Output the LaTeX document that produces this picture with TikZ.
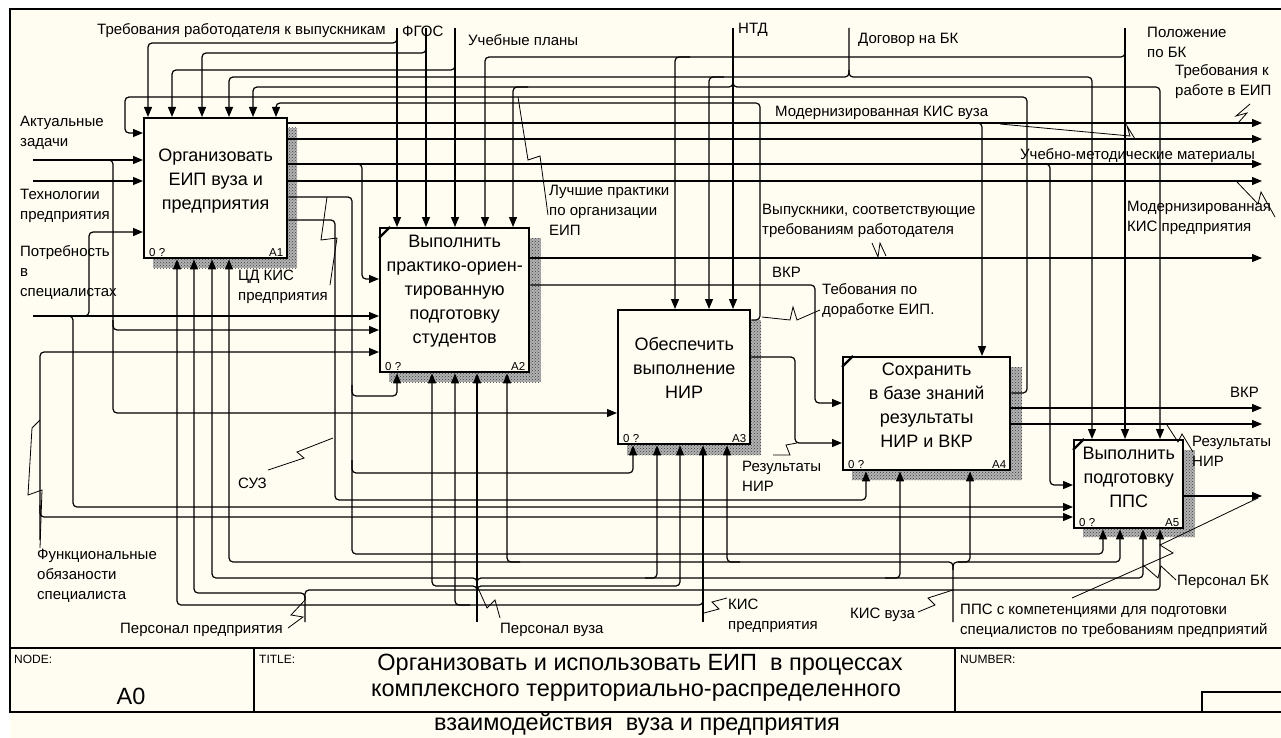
\documentclass[tikz,border=0pt]{standalone}
\usepackage{fontspec}
\setmainfont{Liberation Sans}
\usetikzlibrary{arrows.meta,positioning,patterns,calc}
\definecolor{PaperCream}{RGB}{255,252,241}
\definecolor{ShadeGray}{RGB}{60,60,60}
\tikzset{
  fn/.style={draw,line width=2.4pt,fill=PaperCream,anchor=north west,inner sep=0pt},
  fntext/.style={font=\fontsize{18}{24}\selectfont,align=center,inner sep=0pt},
  shade/.style={fill=black!30,postaction={pattern=crosshatch dots,pattern color=ShadeGray}},
  flow/.style={line width=1.2pt,rounded corners=4pt},
  arr/.style={flow,-{Triangle[length=10pt,width=8pt]}},
  lbl/.style={font=\fontsize{15}{20}\selectfont,inner sep=0pt,align=left,anchor=west},
  ttl/.style={font=\fontsize{23.5}{29}\selectfont,inner sep=0pt,align=center},
  tag/.style={font=\fontsize{11.5}{11.5}\selectfont,inner sep=0pt},
  squig/.style={line width=0.8pt}}
\newcommand{\fntags}[2]{%
  \node[tag,anchor=south west] (#1n) at ($(#1.south west)+(6,-3)$) {0 ?};
  \node[tag,anchor=south east] (#1i) at ($(#1.south east)+(-5,-3)$) {#2};}

\begin{document}
\begin{tikzpicture}[x=1pt,y=-1pt]
  \useasboundingbox (0,0) rectangle (1281,738);
  \fill[white] (0,0) rectangle (1281,738);
  \fill[PaperCream] (10,9) rectangle (1281,738);
  % frame and title block
  \draw[line width=1.3pt] (1290,9) -- (10,9) -- (10,712) -- (1290,712);
  \draw[line width=1.3pt] (10,648) -- (1290,648);
  \draw[line width=1.3pt] (254,648) -- (254,712);
  \draw[line width=1.3pt] (955,648) -- (955,712);
  \draw[line width=1.3pt] (1202,712) |- (1290,692);
  \node[tag,anchor=west,font=\fontsize{12}{12}\selectfont] (nodehd) at (14,659) {NODE:};
  \node[tag,anchor=west,font=\fontsize{12}{12}\selectfont] (titlehd) at (259,659) {TITLE:};
  \node[tag,anchor=west,font=\fontsize{12}{12}\selectfont] (numhd) at (960,659) {NUMBER:};
  \node[ttl] (nodeA0) at (131,696) {A0};
  \node[ttl] (title1) at (640,665) {Организовать и использовать ЕИП\ \ в процессах};
  \node[ttl] (title2) at (636,693) {комплексного территориально-распределенного};
  \node[ttl] (title3) at (637,724) {взаимодействия\ \ вуза и предприятия};

  % shadows
  \fill[shade] (153,128) rectangle (297,268);
  \fill[shade] (389,238) rectangle (541,382);
  \fill[shade] (627,320) rectangle (761,455);
  \fill[shade] (852,367) rectangle (1022,480);
  \fill[shade] (1083,450) rectangle (1195,537);

  % function boxes
  \node[fn,minimum width=143pt,minimum height=140pt] (A1) at (143,117) {};
  \node[fn,minimum width=149pt,minimum height=144pt] (A2) at (379,227) {};
  \node[fn,minimum width=132pt,minimum height=134pt] (A3) at (617,309) {};
  \node[fn,minimum width=167pt,minimum height=113pt] (A4) at (842,356) {};
  \node[fn,minimum width=109pt,minimum height=88pt] (A5) at (1073,439) {};
  \draw[line width=2.4pt] ($(A2.north west)+(0,11)$) -- ++(11,-11);
  \draw[line width=2.4pt] ($(A4.north west)+(0,11)$) -- ++(11,-11);
  \draw[line width=2.4pt] ($(A5.north west)+(0,11)$) -- ++(11,-11);
  \node[fntext] (A1txt) at ($(A1.center)+(0,-7)$) {Организовать\\ЕИП вуза и\\предприятия};
  \node[fntext] (A2txt) at ($(A2.center)+(0,-9)$) {Выполнить\\практико-ориен-\\тированную\\подготовку\\студентов};
  \node[fntext] (A3txt) at ($(A3.center)+(0,-9)$) {Обеспечить\\выполнение\\НИР};
  \node[fntext] (A4txt) at ($(A4.center)+(0,-8)$) {Сохранить\\в базе знаний\\результаты\\НИР и ВКР};
  \node[fntext] (A5txt) at ($(A5.center)+(0,-7)$) {Выполнить\\подготовку\\ППС};
  \fntags{A1}{A1}
  \fntags{A2}{A2}
  \fntags{A3}{A3}
  \fntags{A4}{A4}
  \fntags{A5}{A5}

  % controls from the top
  \draw[arr] (397,28) -- (397,0 |- A2.north);
  \draw[arr] (397,34) |- (148,43) -- (148,0 |- A1.north);
  \draw[arr] (426,28) -- (426,0 |- A2.north);
  \draw[arr] (426,44) |- (202,53) -- (202,0 |- A1.north);
  \draw[arr] (455,28) -- (455,0 |- A2.north);
  \draw[arr] (455,62) |- (172,70) -- (172,0 |- A1.north);
  \draw[arr] (1125,28) -- (1125,0 |- A5.north);
  \draw[arr] (1125,48) |- (485,57) -- (485,0 |- A2.north);
  \draw[arr] (690,57) -| (675,0 |- A3.north);
  \draw[arr] (733,28) -- (733,0 |- A3.north);
  \draw[arr] (733,80) |- (253,87) -- (253,0 |- A1.north);
  \draw[arr] (733,80) |- (1160,87) -- (1160,0 |- A5.north);
  \draw[arr] (528,87) -| (513,0 |- A2.north);
  \draw[arr] (849,28) |- (229,77) -- (229,0 |- A1.north);
  \draw[arr] (849,70) |- (1092,77) -- (1092,0 |- A5.north);
  \draw[arr] (724,77) -| (709,0 |- A3.north);

  % feedback loops
  \draw[arr] (A4.east |- 0,393) -| (1027,97) -| (125,133) -- (A1.west |- 0,133);
  \draw[arr] (A3.east |- 0,320) -| (760,103) -| (276,0 |- A1.north);

  % outputs of A1
  \draw[arr] (A1.east |- 0,123) -- (1262,123);
  \draw[arr] (A1.east |- 0,139) -- (1262,139);
  \draw[arr] (A1.east |- 0,164) -- (1262,164);
  \draw[arr] (A1.east |- 0,181) -- (1262,181);
  \draw[arr] (970,123) -| (982,0 |- A4.north);
  \draw[arr] (1038,164) -| (1050,485) -- (A5.west |- 0,485);
  \draw[arr] (350,164) -| (362,279) -- (A2.west |- 0,279);
  \draw[arr] (A1.east |- 0,197) -| (352,554) -| (1103,0 |- A5.south);
  \draw[arr] (352,385) |- (397,396) -- (397,0 |- A2.south);
  \draw[arr] (352,460) |- (633,473) -- (633,0 |- A3.south);
  \draw[arr] (A1.east |- 0,220) -| (335,500) -| (866,0 |- A4.south);

  % inputs from the left
  \draw[arr] (33,160) -- (A1.west |- 0,160);
  \draw[arr] (98,160) -| (113,330) -- (A2.west |- 0,330);
  \draw[arr] (113,320) |- (A3.west |- 0,413);
  \draw[arr] (33,181) -- (A1.west |- 0,181);
  \draw[arr] (33,316) -- (A2.west |- 0,316);
  \draw[arr] (78,316) -| (89,232) -- (A1.west |- 0,232);
  \draw[arr] (62,316) -| (73,507) -- (A5.west |- 0,507);
  \draw[arr] (40,540) |- (A2.west |- 0,352);
  \draw[arr] (40,505) |- (A5.west |- 0,517);

  % outputs of A2..A5
  \draw[arr] (A2.east |- 0,258) -- (1262,258);
  \draw[arr] (A2.east |- 0,285) -| (815,403) -- (A4.west |- 0,403);
  \draw[arr] (A3.east |- 0,357) -| (795,443) -- (A4.west |- 0,443);
  \draw[arr] (A4.east |- 0,408) -- (1262,408);
  \draw[arr] (A4.east |- 0,424) -- (1262,424);
  \draw[arr] (A5.east |- 0,496) -- (1262,496);

  % mechanisms from the bottom
  \draw[arr] (703,622) -- (703,0 |- A3.south);
  \draw[arr] (703,595) |- (177,605) -- (177,0 |- A1.south);
  \draw[arr] (470,605) -| (455,0 |- A2.south);
  \draw[arr] (305,622) |- (194,593) -- (194,0 |- A1.south);
  \draw[arr] (305,600) |- (1160,590) -- (1160,0 |- A5.south);
  \draw[arr] (477,622) -- (477,0 |- A2.south);
  \draw[arr] (477,591) |- (432,586) -- (432,0 |- A2.south);
  \draw[arr] (477,591) |- (680,586) -- (680,0 |- A3.south);
  \draw[arr] (477,584) |- (212,578) -- (212,0 |- A1.south);
  \draw[arr] (477,584) |- (1143,578) -- (1143,0 |- A5.south);
  \draw[arr] (885,578) -| (900,0 |- A4.south);
  \draw[arr] (645,578) -| (657,0 |- A3.south);
  \draw[arr] (953,622) |- (229,562) -- (229,0 |- A1.south);
  \draw[arr] (953,570) |- (1120,562) -- (1120,0 |- A5.south);
  \draw[arr] (740,562) -| (727,0 |- A3.south);
  \draw[arr] (520,562) -| (507,0 |- A2.south);
  \draw[arr] (958,562) -| (970,0 |- A4.south);

  % labels
  \node[lbl] (lTreb) at (97,31) {Требования работодателя к выпускникам};
  \node[lbl] (lFgos) at (402,31) {ФГОС};
  \node[lbl] (lPlan) at (468,40) {Учебные планы};
  \node[lbl] (lNtd) at (738,30) {НТД};
  \node[lbl] (lDog) at (858,40) {Договор на БК};
  \node[lbl] (lPol) at (1147,42) {Положение\\по БК};
  \node[lbl] (lReqEip) at (1175,82) {Требования к\\работе в ЕИП};
  \node[lbl] (lKisVuz) at (775,113) {Модернизированная КИС вуза};
  \node[lbl] (lUmm) at (1020,156) {Учебно-методические материалы};
  \node[lbl] (lKisPr) at (1127,218) {Модернизированная\\КИС предприятия};
  \node[lbl] (lGrad) at (762,221) {Выпускники, соответствующие\\требованиям работодателя};
  \node[lbl] (lBest) at (549,210) {Лучшие практики\\по организации\\ЕИП};
  \node[lbl] (lCd) at (238,287) {ЦД КИС\\предприятия};
  \node[lbl] (lVkr1) at (772,272) {ВКР};
  \node[lbl] (lRework) at (822,301) {Тебования по\\доработке ЕИП.};
  \node[lbl] (lNir1) at (742,476) {Результаты\\НИР};
  \node[lbl] (lVkr2) at (1230,392) {ВКР};
  \node[lbl] (lNir2) at (1192,451) {Результаты\\НИР};
  \node[lbl] (lStaffBk) at (1177,582) {Персонал БК};
  \node[lbl] (lPps) at (960,621) {ППС с компетенциями для подготовки\\специалистов по требованиям предприятий};
  \node[lbl] (lKisV) at (850,615) {КИС вуза};
  \node[lbl] (lKisP) at (728,616) {КИС\\предприятия};
  \node[lbl] (lStaffV) at (500,630) {Персонал вуза};
  \node[lbl] (lStaffP) at (120,630) {Персонал предприятия};
  \node[lbl] (lSuz) at (238,483) {СУЗ};
  \node[lbl] (lFunc) at (37,576) {Функциональные\\обязаности\\специалиста};
  \node[lbl] (lTasks) at (20,133) {Актуальные\\задачи};
  \node[lbl] (lTech) at (20,206) {Технологии\\предприятия};
  \node[lbl] (lNeed) at (20,272) {Потребность\\в\\специалистах};

  % label squiggles
  \draw[squig] (518,97) -- (528,160) -- (540,156) -- (548,215);
  \draw[squig] (327,197) -- (321,240) -- (337,238) -- (330,285);
  \draw[squig] (268,470) -- (304,458) -- (297,452) -- (333,438);
  \draw[squig] (288,628) -- (303,617) -- (291,615) -- (305,600);
  \draw[squig] (500,618) -- (495,600) -- (487,608) -- (478,588);
  \draw[squig] (727,598) -- (712,602) -- (719,609) -- (704,613);
  \draw[squig] (918,612) -- (935,605) -- (928,598) -- (953,590);
  \draw[squig] (872,243) -- (878,257) -- (880,243) -- (886,256);
  \draw[squig] (762,317) -- (790,320) -- (793,307) -- (797,320) -- (820,310);
  \draw[squig] (773,455) -- (790,455) -- (786,445) -- (797,443);
  \draw[squig] (1250,104) -- (1236,116) -- (1247,113) -- (1238,123);
  \draw[squig] (1000,124) -- (1130,136) -- (1127,126) -- (1135,139);
  \draw[squig] (1237,182) -- (1258,204) -- (1261,192) -- (1275,217);
  \draw[squig] (1167,425) -- (1178,442) -- (1182,434) -- (1193,452);
  \draw[squig] (1072,598) -- (1173,553) -- (1160,545) -- (1258,498);
  \draw[squig] (1176,580) -- (1161,566) -- (1158,578) -- (1143,565);
  \draw[squig] (40,420) -- (32,428) -- (28,495) -- (42,490) -- (40,548);
\end{tikzpicture}
\end{document}
